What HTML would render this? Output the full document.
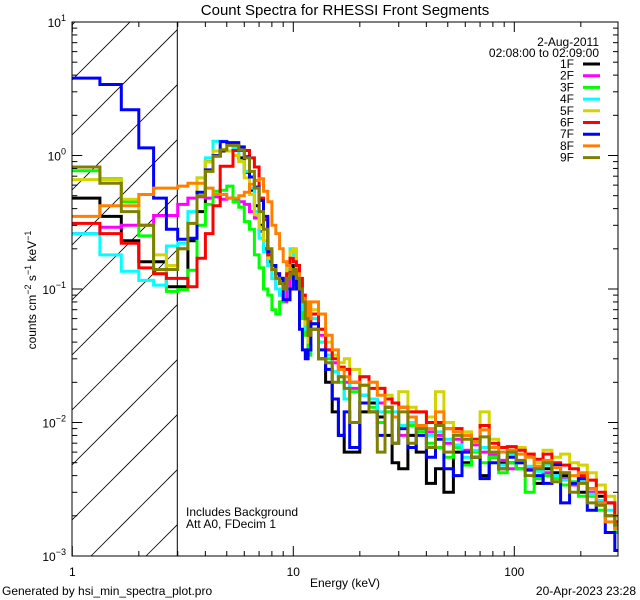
<!DOCTYPE html>
<html><head><meta charset="utf-8"><style>
html,body{margin:0;padding:0;background:#fff;overflow:hidden;width:640px;height:600px;}
svg{display:block;}
svg text{font-family:"Liberation Sans",sans-serif;fill:#000;}
</style></head><body>
<svg id="chart" width="640" height="600" viewBox="0 0 640 600" xmlns="http://www.w3.org/2000/svg" overflow="hidden">
<rect width="640" height="600" fill="#fff"/>
<defs><clipPath id="pc"><rect x="72" y="22" width="546" height="534"/></clipPath>
<clipPath id="hc"><rect x="72" y="22" width="105.5" height="534"/></clipPath></defs>
<g id="hatch" clip-path="url(#hc)"></g>
<line x1="177.3" y1="22" x2="177.3" y2="556" stroke="#000" stroke-width="1"/>
<g id="series" clip-path="url(#pc)"></g>
<rect x="72" y="22" width="546" height="534" fill="none" stroke="#000" stroke-width="1"/>
<g id="axes"></g>
<text x="345" y="15" font-size="15" text-anchor="middle">Count Spectra for RHESSI Front Segments</text>
<text transform="translate(36,290) rotate(-90)" font-size="12" text-anchor="middle">counts cm<tspan dy="-5" font-size="9">−2</tspan><tspan dy="5"> s</tspan><tspan dy="-5" font-size="9">−1</tspan><tspan dy="5"> keV</tspan><tspan dy="-5" font-size="9">−1</tspan></text>
<text x="345" y="587" font-size="12" text-anchor="middle">Energy (keV)</text>
<text x="2" y="595" font-size="12">Generated by hsi_min_spectra_plot.pro</text>
<text x="636" y="595" font-size="12" text-anchor="end">20-Apr-2023 23:28</text>
<text x="186" y="516" font-size="12">Includes Background</text>
<text x="186" y="528" font-size="12">Att A0, FDecim 1</text>
<text x="599" y="46" font-size="12" text-anchor="end">2-Aug-2011</text>
<text x="599" y="57" font-size="12" text-anchor="end">02:08:00 to 02:09:00</text>
<g id="legend"></g>
</svg>
<script>
const NS="http://www.w3.org/2000/svg";
const lowEdges=[1,1.3333,1.6667,2,2.3333,2.6667,3,3.3333,3.6667,4,4.3333,4.6667,5,5.3333,5.6667,6,6.3333,6.6667,7,7.3333,7.6667,8,8.3333,8.6667,9,9.3333,9.6667,10,10.333,10.667,11,11.333,11.667];
const highEdges=[12,13,14,15,16,17,18,20,22,24,26,28,30,33,36,40,44,48,53,58,64,70,77,85,93,102,112,123,135,148,162,178,195,214,235,258,285,294];
const seriesNames=["1F","2F","3F","4F","5F","6F","7F","8F","9F"];
const seriesColors=["#000000","#ff00ff","#00ff00","#00ffff","#d4d400","#ff0000","#0000ff","#ff8000","#808000"];
const s1F=[0.48,0.35,0.23,0.16,0.16,0.104,0.104,0.23,0.38,0.9,0.99,1.08,1.08,1.0,0.96,0.75,0.55,0.42,0.3,0.2,0.16,0.14,0.12,0.11,0.1,0.12,0.15,0.13,0.11,0.1,0.08,0.05,0.035,
0.05,0.03,0.02,0.012,0.008,0.006,0.006,0.012,0.014,0.011,0.008,0.005,0.0045,0.008,0.006,0.0035,0.0045,0.003,0.006,0.005,0.0055,0.004,0.0055,0.005,0.005,0.0045,0.0045,0.0035,0.0045,0.0042,0.004,0.0035,0.003,0.0032,0.0028,0.0025,0.0018];
const s2F=[0.26,0.29,0.30,0.30,0.355,0.355,0.43,0.48,0.49,0.48,0.49,0.47,0.48,0.47,0.45,0.43,0.38,0.34,0.27,0.2,0.15,0.12,0.1,0.09,0.08,0.1,0.13,0.14,0.12,0.1,0.075,0.05,0.035,
0.065,0.045,0.035,0.028,0.022,0.02,0.018,0.016,0.015,0.014,0.012,0.011,0.008,0.011,0.009,0.0085,0.008,0.007,0.0075,0.0062,0.0068,0.006,0.0058,0.0052,0.0045,0.005,0.0046,0.0045,0.0042,0.004,0.0038,0.0034,0.0038,0.003,0.0026,0.002,0.0016];
const s3F=[0.77,0.67,0.45,0.25,0.13,0.096,0.099,0.138,0.30,0.43,0.54,0.55,0.59,0.45,0.41,0.32,0.28,0.18,0.144,0.1,0.09,0.07,0.065,0.08,0.1,0.12,0.13,0.12,0.1,0.08,0.06,0.045,0.032,
0.055,0.04,0.03,0.024,0.02,0.015,0.017,0.014,0.013,0.01,0.012,0.011,0.009,0.0095,0.0085,0.007,0.0065,0.0055,0.0065,0.0048,0.006,0.005,0.0055,0.0042,0.005,0.0045,0.003,0.0038,0.004,0.0038,0.0034,0.0036,0.0028,0.0028,0.0022,0.002,0.0015];
const s4F=[0.26,0.18,0.136,0.116,0.107,0.21,0.22,0.38,0.68,0.96,1.28,1.28,1.24,1.14,0.9,0.76,0.57,0.38,0.24,0.19,0.15,0.12,0.1,0.09,0.1,0.14,0.2,0.18,0.13,0.1,0.07,0.05,0.04,
0.06,0.04,0.032,0.024,0.022,0.015,0.02,0.016,0.015,0.012,0.013,0.012,0.0095,0.01,0.009,0.008,0.0085,0.0075,0.0068,0.0055,0.0062,0.0065,0.006,0.0048,0.0058,0.005,0.0047,0.0043,0.0048,0.004,0.0037,0.0035,0.0036,0.0029,0.0026,0.0022,0.0016];
const s5F=[0.66,0.66,0.47,0.30,0.18,0.15,0.2,0.31,0.68,0.9,1.08,1.11,1.08,1.0,0.9,0.68,0.51,0.36,0.29,0.23,0.17,0.14,0.12,0.11,0.12,0.16,0.19,0.2,0.15,0.11,0.08,0.055,0.04,
0.07,0.05,0.04,0.032,0.028,0.03,0.025,0.022,0.02,0.018,0.016,0.014,0.017,0.013,0.012,0.011,0.017,0.01,0.009,0.0085,0.0075,0.012,0.0075,0.0065,0.0062,0.0065,0.0058,0.005,0.0062,0.0055,0.0058,0.005,0.0048,0.0042,0.0034,0.0028,0.002];
const s6F=[0.31,0.26,0.22,0.144,0.13,0.12,0.12,0.104,0.17,0.26,0.42,0.83,0.83,1.09,1.09,1.09,0.96,0.82,0.48,0.33,0.18,0.15,0.13,0.12,0.11,0.13,0.17,0.16,0.15,0.12,0.09,0.06,0.045,
0.065,0.05,0.035,0.03,0.026,0.025,0.02,0.022,0.018,0.018,0.015,0.014,0.013,0.012,0.012,0.01,0.01,0.009,0.009,0.008,0.0075,0.0095,0.007,0.0065,0.0066,0.0062,0.0058,0.0053,0.0058,0.005,0.0048,0.0045,0.004,0.0037,0.003,0.0025,0.0018];
const s7F=[3.8,3.4,2.2,1.14,0.48,0.28,0.236,0.24,0.53,0.78,1.0,1.27,1.25,1.25,1.16,0.98,0.69,0.58,0.46,0.35,0.19,0.15,0.13,0.12,0.083,0.083,0.1,0.13,0.1,0.05,0.035,0.03,0.035,
0.055,0.035,0.025,0.015,0.008,0.012,0.0065,0.014,0.012,0.008,0.013,0.007,0.009,0.0065,0.008,0.0055,0.0075,0.0045,0.004,0.006,0.0055,0.0038,0.005,0.0045,0.0055,0.005,0.0044,0.004,0.0035,0.0048,0.0025,0.0035,0.0038,0.0022,0.0025,0.0015,0.0011];
const s8F=[0.35,0.42,0.42,0.51,0.57,0.57,0.59,0.62,0.62,0.57,0.51,0.51,0.48,0.48,0.5,0.53,0.61,0.65,0.67,0.54,0.45,0.3,0.26,0.2,0.16,0.15,0.14,0.13,0.13,0.1,0.085,0.08,0.06,
0.08,0.065,0.045,0.035,0.025,0.022,0.02,0.019,0.02,0.016,0.013,0.011,0.013,0.011,0.0095,0.009,0.012,0.009,0.0085,0.008,0.0072,0.0088,0.0065,0.006,0.0062,0.0058,0.0055,0.0047,0.0052,0.0046,0.0042,0.004,0.0042,0.0032,0.0025,0.0018,0.0016];
const s9F=[0.82,0.62,0.38,0.30,0.14,0.14,0.2,0.31,0.5,0.76,0.99,1.1,1.19,1.19,1.1,0.96,0.76,0.57,0.38,0.28,0.2,0.14,0.12,0.11,0.1,0.12,0.13,0.14,0.12,0.1,0.08,0.06,0.045,
0.05,0.03,0.028,0.02,0.022,0.018,0.01,0.019,0.012,0.006,0.013,0.007,0.012,0.007,0.009,0.0065,0.0095,0.006,0.008,0.0075,0.0055,0.0078,0.006,0.0045,0.006,0.0052,0.004,0.0045,0.005,0.0036,0.0042,0.003,0.0035,0.0025,0.0024,0.002,0.0017];
const seriesValues=[s1F,s2F,s3F,s4F,s5F,s6F,s7F,s8F,s9F];
const xTickLabels=["1","10","100"];
const yTickLabels=["10","10","10","10","10"];
const yTickExps=["1","0","−1","−2","−3"];

const X0=72.3,XD=221,Y0=22,YD=133.5,XR=618,YB=556;
const xs=e=>X0+Math.log10(e)*XD;
const ys=v=>Y0+(1-Math.log10(v))*YD;
const edges=lowEdges.concat(highEdges);
function mk(tag,attrs,parent){const el=document.createElementNS(NS,tag);for(const k in attrs)el.setAttribute(k,attrs[k]);parent.appendChild(el);return el;}

// hatch (endpoints kept inside the hatched region)
const hg=document.getElementById('hatch');
for(let c=-500;c<800;c+=55){
  const b=212+c;
  let xa=72,ya=b-72;
  let xb=178,yb=b-178;
  if(ya>556){ya=556;xa=b-556;}
  if(yb<22){yb=22;xb=b-22;}
  if(xa>=xb)continue;
  const l=mk('line',{x1:xa,y1:ya,x2:xb,y2:yb,stroke:'#000','stroke-width':0.8},hg);
  
  
}
// series
const sg=document.getElementById('series');
seriesValues.forEach((vals,si)=>{
  let d='';
  vals.forEach((v,i)=>{
    const x1=xs(edges[i]),x2=Math.min(xs(edges[i+1]),XR),y=Math.min(ys(Math.max(v,0.0005)),YB+2);
    d+=(i===0?'M':'L')+x1.toFixed(1)+','+y.toFixed(1)+'L'+x2.toFixed(1)+','+y.toFixed(1);
  });
  const p=mk('path',{d:d,fill:'none',stroke:seriesColors[si],'stroke-width':3,'stroke-linejoin':'miter'},sg);
  
  
});
// axes ticks
const ag=document.getElementById('axes');
for(let dec=0;dec<3;dec++){
  for(let m=1;m<10;m++){
    const e=m*Math.pow(10,dec);const x=xs(e);
    if(x>XR)break;
    const len=m===1?10:5;
    const t1=mk('line',{x1:x,y1:YB,x2:x,y2:YB-len,stroke:'#000'},ag);
    
    
    const t2=mk('line',{x1:x,y1:Y0,x2:x,y2:Y0+len,stroke:'#000'},ag);
    
    
  }
}
xTickLabels.forEach((lab,i)=>{
  const t=mk('text',{x:xs(Math.pow(10,i)),y:576,'font-size':12,'text-anchor':'middle'},ag);
  t.textContent=lab;
  
  
});
for(let dec=-3;dec<1;dec++){
  for(let m=1;m<10;m++){
    const y=ys(m*Math.pow(10,dec));const len=m===1?10:5;
    const t1=mk('line',{x1:X0,y1:y,x2:X0+len,y2:y,stroke:'#000'},ag);
    
    
    const t2=mk('line',{x1:XR,y1:y,x2:XR-len,y2:y,stroke:'#000'},ag);
    
    
  }
}
yTickLabels.forEach((lab,i)=>{
  const y=ys(Math.pow(10,1-i));
  const t=mk('text',{x:66,y:y+5,'font-size':12,'text-anchor':'end'},ag);
  t.textContent=lab;
  const ts=mk('tspan',{dy:-6,'font-size':9},t);ts.textContent=yTickExps[i];
  
  
});
// legend
const lg=document.getElementById('legend');
seriesNames.forEach((n,i)=>{
  const y=64+i*11.7;
  const t=mk('text',{x:574,y:y+4,'font-size':12,'text-anchor':'end'},lg);
  t.textContent=n;
  
  
  const l=mk('line',{x1:583,y1:y,x2:600,y2:y,stroke:seriesColors[i],'stroke-width':3},lg);
  
  
});
</script>
</body></html>
